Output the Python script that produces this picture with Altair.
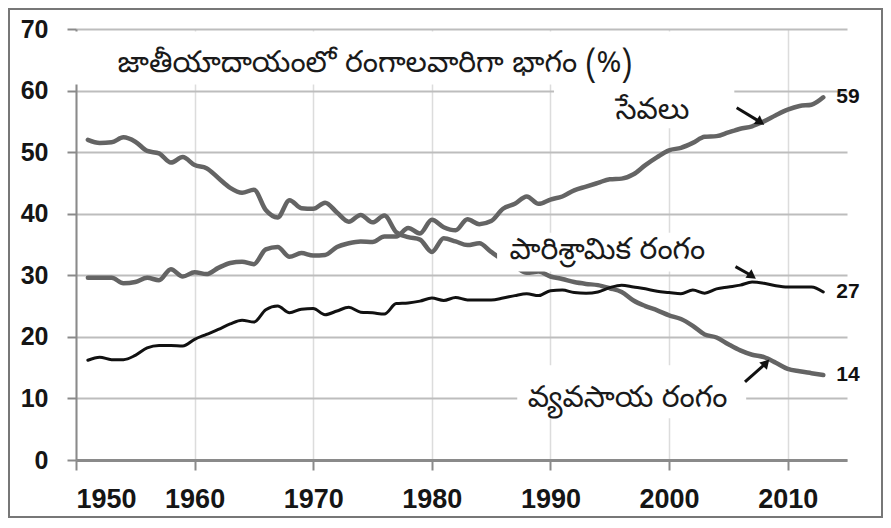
import altair as alt
import pandas as pd

years = list(range(1951, 2014))

agriculture = [52.0, 51.5, 51.6, 52.4, 51.7, 50.2, 49.8, 48.3, 49.2, 47.9,
               47.4, 45.8, 44.2, 43.4, 43.9, 40.6, 39.4, 42.2, 40.9, 40.8,
               41.8, 40.2, 38.7, 39.8, 38.6, 39.7, 37.0, 36.2, 35.8, 33.8,
               36.0, 35.5, 34.9, 35.2, 33.8, 32.5, 31.5, 30.4, 30.6, 29.8,
               29.4, 28.9, 28.6, 28.4, 27.9, 27.3, 25.9, 25.0, 24.3, 23.5,
               22.9, 21.8, 20.4, 19.9, 18.8, 17.8, 17.1, 16.7, 15.8, 14.8,
               14.4, 14.1, 13.8]

services = [29.6, 29.6, 29.6, 28.7, 28.9, 29.6, 29.2, 31.0, 29.8, 30.5,
            30.2, 31.2, 32.0, 32.2, 31.8, 34.2, 34.6, 33.0, 33.6, 33.2,
            33.3, 34.6, 35.2, 35.5, 35.4, 36.3, 36.3, 37.7, 36.8, 39.0,
            37.8, 37.3, 39.1, 38.3, 38.8, 40.8, 41.6, 42.8, 41.6, 42.3,
            42.8, 43.8, 44.4, 45.0, 45.6, 45.7, 46.4, 47.9, 49.2, 50.3,
            50.7, 51.5, 52.5, 52.6, 53.2, 53.8, 54.2, 55.0, 56.0, 56.9,
            57.5, 57.7, 58.9]

industry = [16.2, 16.7, 16.3, 16.3, 17.0, 18.2, 18.6, 18.6, 18.5, 19.6,
            20.4, 21.2, 22.1, 22.7, 22.4, 24.4, 25.0, 23.9, 24.5, 24.6,
            23.6, 24.2, 24.8, 24.0, 23.9, 23.7, 25.4, 25.5, 25.8, 26.3,
            25.9, 26.4, 26.0, 26.0, 26.0, 26.3, 26.7, 27.0, 26.7, 27.5,
            27.6, 27.2, 27.1, 27.3, 28.0, 28.4, 28.1, 27.8, 27.4, 27.2,
            27.0, 27.6, 27.1, 27.8, 28.1, 28.4, 28.9, 28.7, 28.3, 28.1,
            28.1, 28.1, 27.3]

end_labels = ["59", "27", "14"]
chart_title = "జాతీయాదాయంలో రంగాలవారిగా భాగం (%)"
sector_names = ["సేవలు", "పారిశ్రామిక రంగం", "వ్యవసాయ రంగం"]
x_ticks = [1950, 1960, 1970, 1980, 1990, 2000, 2010]
y_ticks = [0, 10, 20, 30, 40, 50, 60, 70]

TELUGU = "Noto Sans Telugu, Noto Sans, sans-serif"

df_serv = pd.DataFrame({"year": years, "value": services})
df_agri = pd.DataFrame({"year": years, "value": agriculture})
df_ind = pd.DataFrame({"year": years, "value": industry})

xs = alt.Scale(domain=[1950, 2015], nice=False, zero=False)
ys = alt.Scale(domain=[0, 70], nice=False)

x_axis = alt.Axis(values=x_ticks, format="d", title=None,
                  labelFont="Liberation Sans", labelFontWeight="bold",
                  labelFontSize=27, labelColor="#151515", labelPadding=16,
                  tickSize=10, tickColor="#8a8a8a", tickWidth=2,
                  domainColor="#8a8a8a", domainWidth=3,
                  gridColor="#dcdcdc", gridWidth=1.5)
y_axis = alt.Axis(values=y_ticks, title=None,
                  labelFont="Liberation Sans", labelFontWeight="bold",
                  labelFontSize=25, labelColor="#151515", labelPadding=19,
                  tickSize=9, tickColor="#8a8a8a", tickWidth=2,
                  domainColor="#8a8a8a", domainWidth=2,
                  gridColor="#bdbdbd", gridWidth=2)


def line(df, color, width):
    return alt.Chart(df).mark_line(color=color, strokeWidth=width, interpolate="monotone",
                                   strokeJoin="round", strokeCap="round").encode(
        x=alt.X("year:Q", scale=xs, axis=x_axis),
        y=alt.Y("value:Q", scale=ys, axis=y_axis),
    )


lines = line(df_serv, "#646464", 4.5) + line(df_agri, "#646464", 4.5) + line(df_ind, "#111111", 3)

# white label boxes (data coordinates)
boxes = pd.DataFrame({
    "x1": [1949.4, 1990.3, 1985.5, 1987.2],
    "x2": [1990.35, 2005.5, 2004.7, 2006.5],
    "y1": [61.0, 53.9, 30.6, 6.8],
    "y2": [69.6, 69.6, 36.9, 15.4],
})
box_layer = alt.Chart(boxes).mark_rect(color="white").encode(
    x=alt.X("x1:Q", scale=xs), x2="x2:Q",
    y=alt.Y("y1:Q", scale=ys), y2="y2:Q",
)

texts = pd.DataFrame({
    "label": [chart_title] + sector_names,
    "x": [1975.2, 1998.6, 1994.8, 1996.5],
    "y": [64.5, 56.8, 34.1, 10.1],
})
text_layer = alt.Chart(texts).mark_text(font=TELUGU, fontSize=30, color="#1a1a1a",
                                        align="center", baseline="middle").encode(
    x=alt.X("x:Q", scale=xs), y=alt.Y("y:Q", scale=ys), text="label:N",
)

ends = pd.DataFrame({
    "label": end_labels,
    "x": [years[-1]] * 3,
    "y": [services[-1], industry[-1], agriculture[-1]],
})
end_layer = alt.Chart(ends).mark_text(font="Liberation Sans", fontWeight="bold",
                                      fontSize=21, color="#111111", align="left",
                                      baseline="middle", dx=13).encode(
    x=alt.X("x:Q", scale=xs), y=alt.Y("y:Q", scale=ys), text="label:N",
)

arrows = pd.DataFrame({
    "x1": [2005.7, 2005.6, 2006.4],
    "y1": [57.2, 31.4, 12.7],
    "x2": [2007.6, 2006.9, 2008.1],
    "y2": [55.0, 30.0, 15.6],
    "ang": [125, 125, 43],
})
arrow_shaft = alt.Chart(arrows).mark_rule(color="#111111", strokeWidth=3).encode(
    x=alt.X("x1:Q", scale=xs), x2="x2:Q",
    y=alt.Y("y1:Q", scale=ys), y2="y2:Q",
)
arrow_head = alt.Chart(arrows).mark_point(shape="triangle", filled=True, size=110,
                                          color="#111111", opacity=1).encode(
    x=alt.X("x2:Q", scale=xs), y=alt.Y("y2:Q", scale=ys),
    angle=alt.Angle("ang:Q", scale=None),
)

frame = alt.Chart(pd.DataFrame({"a": [0]})).mark_rect(
    fill="transparent", stroke="#777777", strokeWidth=2).encode(
    x=alt.value(-67), x2=alt.value(806), y=alt.value(-20), y2=alt.value(488),
)

chart = alt.layer(
    lines, box_layer, text_layer, end_layer, arrow_shaft, arrow_head, frame
).properties(
    width=771, height=431,
    padding={"left": 68, "top": 21, "right": 36, "bottom": 58},
    autosize="none",
    background="white",
).configure_view(strokeWidth=0)

chart.save("out.html", embed_options={"renderer": "svg", "actions": False})
